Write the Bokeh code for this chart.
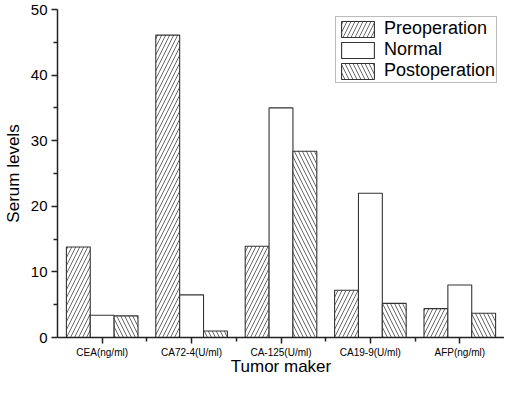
import numpy as np
from bokeh.plotting import figure
from bokeh.models import FixedTicker, Range1d, ColumnDataSource
from bokeh.embed import file_html
from bokeh.resources import INLINE

categories = ["CEA(ng/ml)", "CA72-4(U/ml)", "CA-125(U/ml)", "CA19-9(U/ml)", "AFP(ng/ml)"]
preoperation = [13.8, 46.1, 13.9, 7.2, 4.4]
normal = [3.4, 6.5, 35.0, 22.0, 8.0]
postoperation = [3.3, 1.0, 28.4, 5.2, 3.7]
y_ticks = [0, 10, 20, 30, 40, 50]

FONT = "Liberation Sans"
idx = np.arange(len(categories))
bw = 0.267

p = figure(width=504, height=378, output_backend="svg", toolbar_location=None,
           x_range=Range1d(-0.5, len(categories) - 0.5), y_range=Range1d(0, 50),
           min_border_left=0, min_border_right=0, min_border_top=9, min_border_bottom=30)
p.outline_line_color = None
p.xgrid.visible = False
p.ygrid.visible = False
p.background_fill_color = "white"
p.border_fill_color = "white"

series = [
    ("Preoperation", preoperation, -bw, "/"),
    ("Normal", normal, 0.0, " "),
    ("Postoperation", postoperation, bw, "\\"),
]
for name, vals, off, hatch in series:
    src = ColumnDataSource(dict(x=idx + off, top=vals))
    kw = {}
    if hatch.strip():
        kw = dict(hatch_pattern=hatch, hatch_scale=8, hatch_weight=0.8, hatch_color="#444444")
    p.vbar(x="x", top="top", bottom=0, width=bw, source=src,
           fill_color="white", line_color="#333333", line_width=1.1,
           legend_label=name, **kw)

xa = p.xaxis[0]
xa.ticker = FixedTicker(ticks=list(idx), minor_ticks=list(idx[:-1] + 0.5))
xa.major_label_overrides = {int(i): c for i, c in zip(idx, categories)}
xa.major_label_text_font = FONT
xa.major_label_text_font_size = "10px"
xa.major_label_text_color = "black"
xa.major_label_standoff = 3
xa.major_tick_out = 6
xa.major_tick_in = 0
xa.minor_tick_out = 4
xa.minor_tick_in = 0
xa.axis_label = "Tumor maker"
xa.axis_label_text_font = FONT
xa.axis_label_text_font_size = "17px"
xa.axis_label_text_font_style = "normal"
xa.axis_label_text_color = "black"
xa.axis_label_standoff = -4
xa.axis_line_width = 1.5
xa.axis_line_color = "#222222"
xa.major_tick_line_width = 1.5
xa.minor_tick_line_width = 1.5
xa.major_tick_line_color = "#222222"
xa.minor_tick_line_color = "#222222"

ya = p.yaxis[0]
ya.ticker = FixedTicker(ticks=y_ticks, minor_ticks=[5, 15, 25, 35, 45])
ya.major_label_text_font = FONT
ya.major_label_text_font_size = "15px"
ya.major_label_text_color = "black"
ya.major_label_standoff = 4
ya.major_tick_out = 6
ya.major_tick_in = 0
ya.minor_tick_out = 4
ya.minor_tick_in = 0
ya.axis_label = "Serum levels"
ya.axis_label_text_font = FONT
ya.axis_label_text_font_size = "17px"
ya.axis_label_text_font_style = "normal"
ya.axis_label_text_color = "black"
ya.axis_label_standoff = 5
ya.axis_line_width = 1.5
ya.axis_line_color = "#222222"
ya.major_tick_line_width = 1.5
ya.minor_tick_line_width = 1.5
ya.major_tick_line_color = "#222222"
ya.minor_tick_line_color = "#222222"

lg = p.legend[0]
lg.location = (278, 254)
lg.margin = 0
lg.padding = 1
lg.spacing = 0
lg.glyph_width = 41
lg.glyph_height = 20
lg.label_height = 20
lg.label_standoff = 6
lg.label_text_font = FONT
lg.label_text_font_size = "18px"
lg.label_text_color = "black"
lg.border_line_color = "#777777"
lg.border_line_width = 1
lg.background_fill_alpha = 1.0

open("out.html", "w").write(file_html(p, INLINE))
